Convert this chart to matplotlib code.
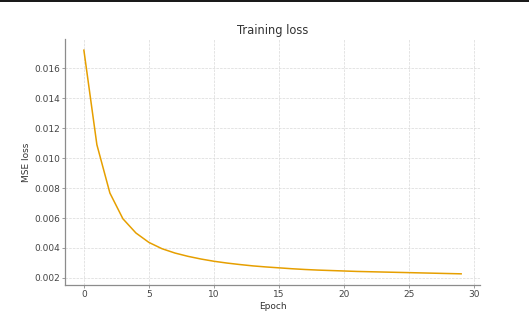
import matplotlib
matplotlib.use("Agg")
import matplotlib.pyplot as plt
from matplotlib.patches import Rectangle

# per-epoch training loss
epochs = list(range(30))
loss = [0.01722, 0.01090, 0.00767, 0.00595, 0.00500, 0.00437, 0.00395, 0.00366,
        0.00344, 0.00326, 0.00311, 0.00299, 0.00289, 0.00280, 0.00273, 0.00267,
        0.00261, 0.00256, 0.00252, 0.00249, 0.00246, 0.00243, 0.00241, 0.00239,
        0.00237, 0.00235, 0.00233, 0.00231, 0.00229, 0.00227]
x_ticks = [0, 5, 10, 15, 20, 25, 30]
y_ticks = [0.002, 0.004, 0.006, 0.008, 0.010, 0.012, 0.014, 0.016]

fig = plt.figure(figsize=(5.29, 3.17), dpi=100)
ax = fig.add_axes([0.1229, 0.1009, 0.7845, 0.7761])

ax.plot(epochs, loss, color="#E69F00", lw=1.1)

ax.set_xticks(x_ticks)
ax.set_yticks(y_ticks)
ax.set_yticklabels([f"{v:.3f}" for v in y_ticks])
ax.grid(True, color="#d9d9d9", ls="--", lw=0.5)
ax.set_axisbelow(True)
ax.spines[["top", "right"]].set_visible(False)
for s in ["left", "bottom"]:
    ax.spines[s].set_color("#8c8c8c")
    ax.spines[s].set_linewidth(0.9)
ax.tick_params(labelsize=6.5, colors="#8c8c8c", labelcolor="#444444",
               length=2, width=0.6, pad=1.5)

ax.set_xlabel("Epoch", fontsize=6.5, color="#333333", labelpad=2.5)
ax.set_ylabel("MSE loss", fontsize=6.5, color="#333333", labelpad=2.5)
ax.set_title("Training loss", fontsize=8.3, color="#333333", pad=3.5)

# dark strip along the top edge, as in the reference
fig.add_artist(Rectangle((0, 1 - 2 / 317), 1, 2 / 317, transform=fig.transFigure,
                         color="#1a1a1a", lw=0))

fig.savefig("out.png", dpi=100)
